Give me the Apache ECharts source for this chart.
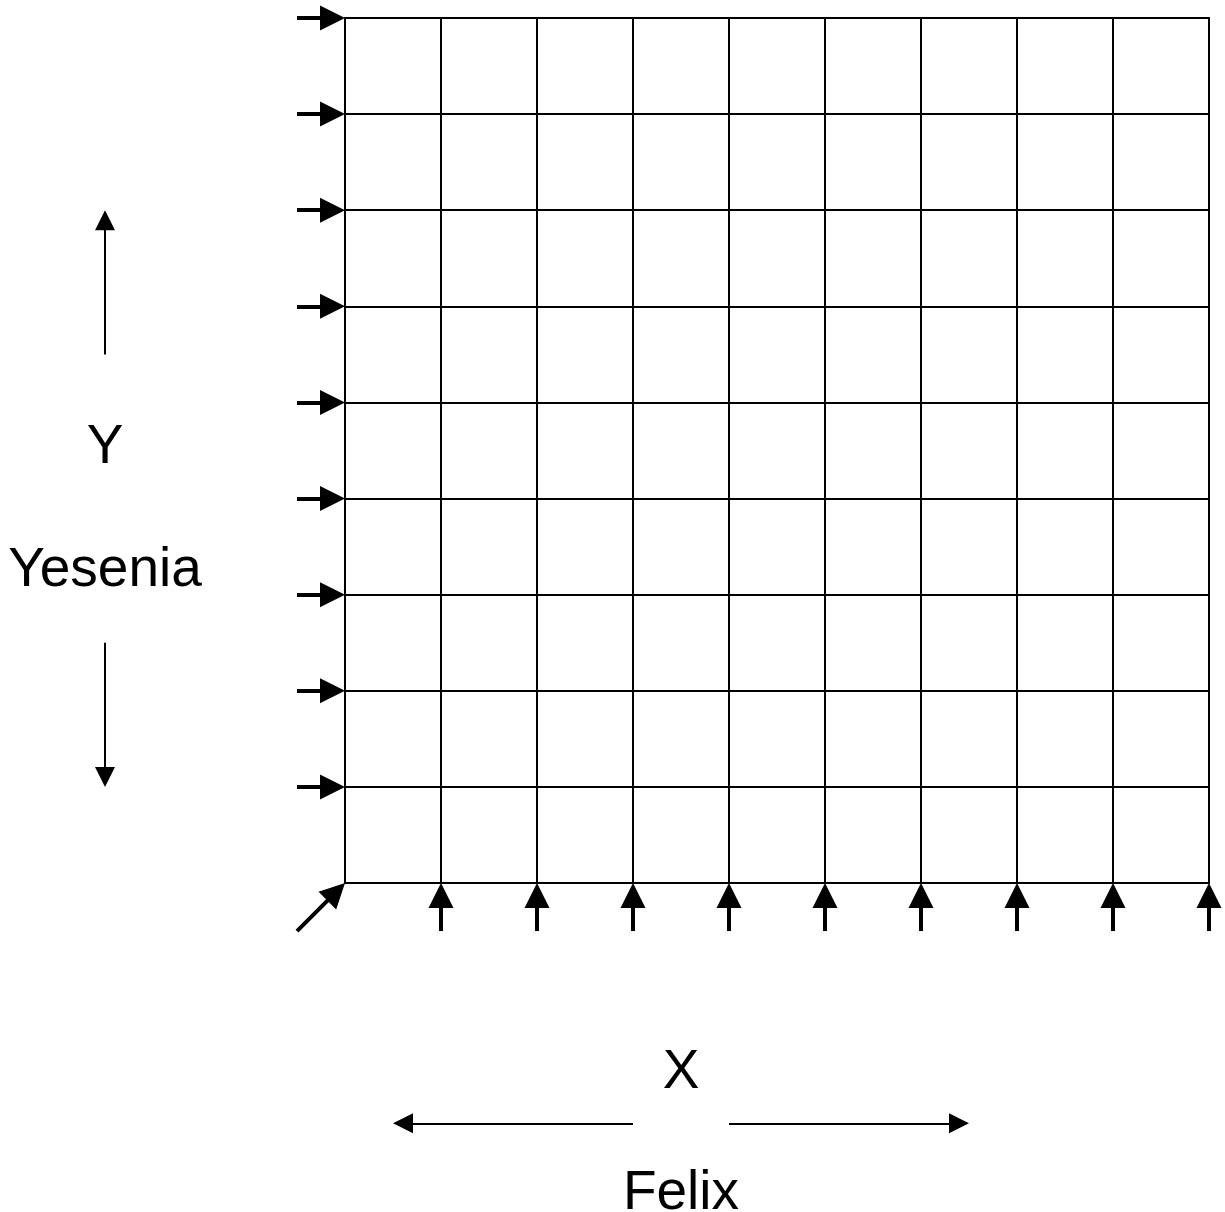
<!DOCTYPE html>
<html>
<head>
<meta charset="utf-8">
<script src="https://cdn.jsdelivr.net/npm/echarts@6/dist/echarts.min.js"></script>
<style>
  html, body { margin: 0; background: #fff; }
  #chart { width: 1225px; height: 1212px; }
</style>
</head>
<body>
<div id="chart"></div>
<script>
// grid ticks that get a small arrow pointing at them
const colTicks = [1, 2, 3, 4, 5, 6, 7, 8, 9];
const rowTicks = [1, 2, 3, 4, 5, 6, 7, 8, 9];
const cornerTick = [0, 0];

// axis titles and their direction arrows (from -> to, in axis units)
const yTitle = 'Y';
const yName = 'Yesenia';
const xTitle = 'X';
const xName = 'Felix';
const yArrows = [[5.5, 7], [2.5, 1]];
const xArrows = [[3, 0.5], [4, 6.5]];

const cells = 9;
const gridLeft = 345, gridTop = 18, gridW = 864, gridH = 865;
const ux = gridW / cells, uy = gridH / cells;
const stub = 0.5;
const smallHead = 25, bigHead = 20;

// pull the line end back so the triangle's tip lands on the target
function ending(from, to, head) {
  const dx = (to[0] - from[0]) * ux, dy = (to[1] - from[1]) * uy;
  const len = Math.sqrt(dx * dx + dy * dy);
  const k = (head / 2) / len;
  return [to[0] - (to[0] - from[0]) * k, to[1] - (to[1] - from[1]) * k];
}
function arrow(from, to, head) {
  return { coords: [from, ending(from, to, head)] };
}

const smallArrows = [];
rowTicks.forEach(v => smallArrows.push(arrow([-stub, v], [0, v], smallHead)));
colTicks.forEach(v => smallArrows.push(arrow([v, -stub], [v, 0], smallHead)));
smallArrows.push(arrow([cornerTick[0] - stub, cornerTick[1] - stub], cornerTick, smallHead));

const bigArrows = [];
yArrows.forEach(a => bigArrows.push(arrow([-2.5, a[0]], [-2.5, a[1]], bigHead)));
xArrows.forEach(a => bigArrows.push(arrow([a[0], -2.5], [a[1], -2.5], bigHead)));

const texts = [
  { name: yTitle, value: [-2.5, 4.53] },
  { name: yName, value: [-2.5, 3.25] },
  { name: xTitle, value: [3.5, -1.98] },
  { name: xName, value: [3.5, -3.23] }
];

const axisCommon = {
  type: 'value',
  min: 0,
  max: cells,
  interval: 1,
  axisLabel: { show: false },
  axisTick: { show: false },
  axisLine: { show: false },
  splitLine: { show: true, lineStyle: { color: '#000', width: 2 } }
};

const option = {
  animation: false,
  backgroundColor: '#fff',
  grid: {
    left: gridLeft, top: gridTop, width: gridW, height: gridH,
    show: true, borderColor: '#000', borderWidth: 2
  },
  xAxis: axisCommon,
  yAxis: axisCommon,
  series: [
    {
      type: 'lines',
      coordinateSystem: 'cartesian2d',
      clip: false,
      symbol: ['none', 'triangle'],
      symbolSize: smallHead,
      lineStyle: { color: '#000', width: 4, opacity: 1, curveness: 0 },
      itemStyle: { color: '#000' },
      data: smallArrows
    },
    {
      type: 'lines',
      coordinateSystem: 'cartesian2d',
      clip: false,
      symbol: ['none', 'triangle'],
      symbolSize: bigHead,
      lineStyle: { color: '#000', width: 2, opacity: 1, curveness: 0 },
      itemStyle: { color: '#000' },
      data: bigArrows
    }
  ]
};

const chart = echarts.init(document.getElementById('chart'));
chart.setOption(option);

// titles placed through the same axes
chart.setOption({
  graphic: texts.map(t => {
    const p = chart.convertToPixel({ gridIndex: 0 }, t.value);
    return {
      type: 'text',
      x: p[0],
      y: p[1],
      style: {
        text: t.name,
        fill: '#000',
        font: '55px "Liberation Sans", Arial, sans-serif',
        align: 'center',
        verticalAlign: 'middle'
      }
    };
  })
});
</script>
</body>
</html>
